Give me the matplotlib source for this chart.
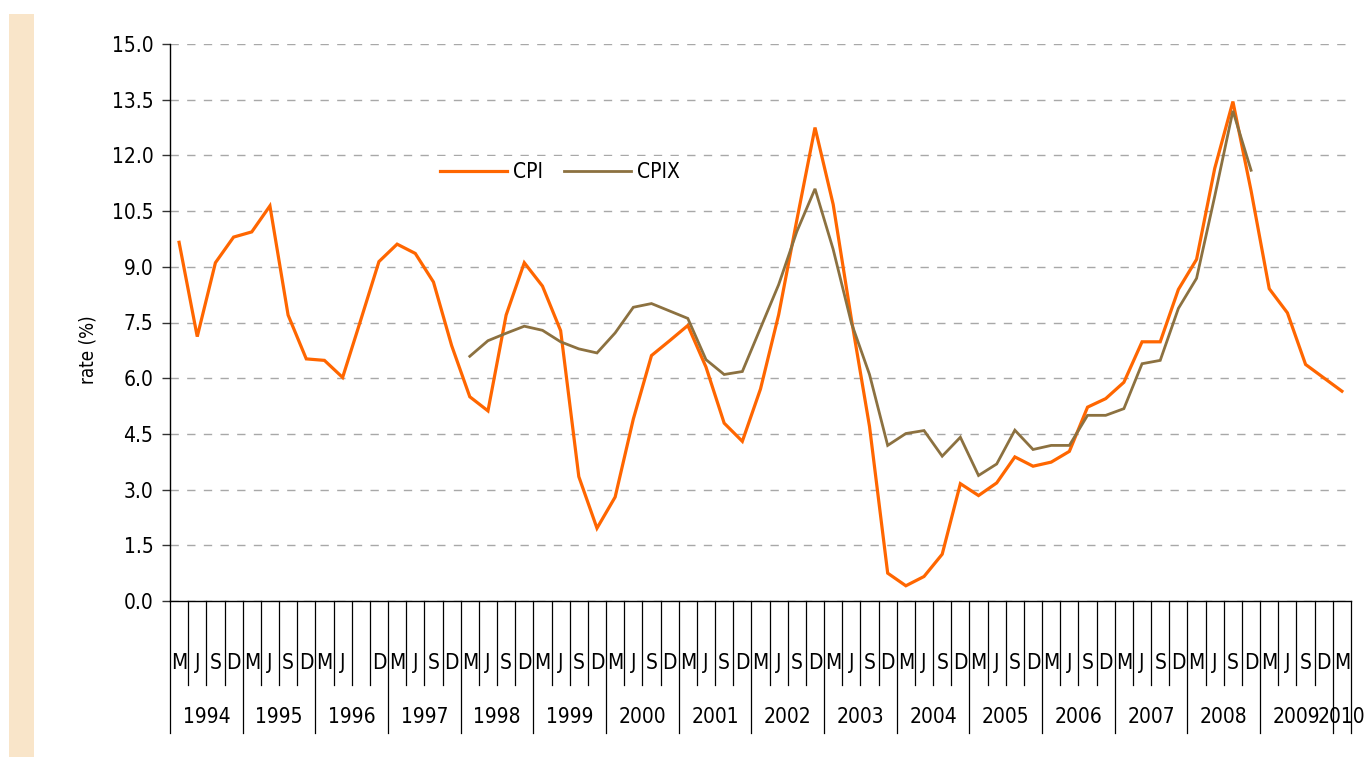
import matplotlib
matplotlib.use("Agg")
import matplotlib.pyplot as plt
import matplotlib.transforms as mtransforms
from matplotlib.patches import Rectangle
from matplotlib import font_manager
import numpy as np

names = sorted({f.name + "|" + str(f.stretch) for f in font_manager.fontManager.ttflist})
print(names)

plt.rcParams['font.family'] = ['DejaVu Sans']
plt.rcParams['font.stretch'] = 'condensed'

years = [str(y) for y in range(1994, 2011)]
quarter_labels = (["M", "J", "S", "D"] * 2 + ["M", "J", "", "D"] + ["M", "J", "S", "D"] * 13 + ["M"])

cpi = [9.66, 7.12, 9.11, 9.80,
       9.94, 10.64, 7.70, 6.52,
       6.48, 6.02, 7.57, 9.14,
       9.61, 9.36, 8.59, 6.88,
       5.50, 5.12, 7.70, 9.11,
       8.48, 7.28, 3.35, 1.96,
       2.80, 4.90, 6.61, 7.01,
       7.42, 6.30, 4.79, 4.30,
       5.71, 7.71, 10.26, 12.75,
       10.68, 7.60, 4.70, 0.75,
       0.41, 0.66, 1.26, 3.16,
       2.84, 3.18, 3.88, 3.63,
       3.74, 4.03, 5.22, 5.45,
       5.89, 6.98, 6.98, 8.39,
       9.20, 11.65, 13.45, 11.05,
       8.41, 7.76, 6.37, 6.01,
       5.65]

nan = float('nan')
cpix = [nan] * 16 + [
       6.59, 7.01, 7.21, 7.40,
       7.29, 6.98, 6.79, 6.68,
       7.22, 7.91, 8.01, 7.81,
       7.61, 6.50, 6.10, 6.18,
       7.35, 8.52, 9.95, 11.10,
       9.47, 7.49, 6.10, 4.19,
       4.51, 4.59, 3.90, 4.41,
       3.38, 3.69, 4.60, 4.08,
       4.19, 4.19, 5.00, 5.00,
       5.18, 6.39, 6.48, 7.88,
       8.69, 10.90, 13.20, 11.60] + [nan] * 5

yticks = [0.0, 1.5, 3.0, 4.5, 6.0, 7.5, 9.0, 10.5, 12.0, 13.5, 15.0]

W, H = 1364, 757
fig = plt.figure(figsize=(W / 100, H / 100), dpi=100)
fig.patch.set_facecolor('white')
fig.patches.append(Rectangle((9 / W, 0), 25 / W, (H - 14) / H, transform=fig.transFigure,
                             facecolor='#F9E5C9', edgecolor='none', zorder=0))

ax_l, ax_r, ax_t, ax_b = 170, 1351, 44, 601
ax = fig.add_axes([ax_l / W, (H - ax_b) / H, (ax_r - ax_l) / W, (ax_b - ax_t) / H])

n = len(cpi)
x = np.arange(n)
ax.plot(x, cpi, color='#FF6600', lw=2.3, label='CPI', zorder=3, solid_joinstyle='miter')
ax.plot(x, cpix, color='#8C7140', lw=2.0, label='CPIX', zorder=3, solid_joinstyle='miter')

ax.set_xlim(-0.5, n - 0.5)
ax.set_ylim(0, 15)
ax.set_yticks(yticks)
ax.set_yticklabels([f"{v:.1f}" for v in yticks])
ax.tick_params(axis='y', direction='out', length=6, width=1, pad=6, labelsize=15, color='#333333')
ax.set_xticks([])
ax.yaxis.grid(True, linestyle=(0, (6, 6)), color='#A8A8A8', lw=1.0)
ax.set_axisbelow(True)
for s in ['top', 'right']:
    ax.spines[s].set_visible(False)
for s in ['left', 'bottom']:
    ax.spines[s].set_linewidth(1.0)
    ax.spines[s].set_color('black')

ax.set_ylabel('rate (%)', fontsize=13.5)
ax.yaxis.set_label_coords((97 - ax_l) / (ax_r - ax_l), (ax_b - 350) / (ax_b - ax_t))

# category axis
trans = mtransforms.blended_transform_factory(ax.transData, ax.transAxes)
ah = ax_b - ax_t
y_short = -(685 - ax_b) / ah
y_long = -(733 - ax_b) / ah
y_q = -(663 - ax_b) / ah
y_y = -(717 - ax_b) / ah
for i in range(n + 1):
    bx = i - 0.5
    yend = y_long if (i % 4 == 0 or i == n) else y_short
    ax.plot([bx, bx], [0, yend], transform=trans, color='black', lw=0.9, clip_on=False)
for i, lab in enumerate(quarter_labels):
    ax.text(i, y_q, lab, transform=trans, ha='center', va='center', fontsize=15)
for k, yr in enumerate(years):
    idx = [j for j in range(4 * k, min(4 * k + 4, n))]
    cx = (idx[0] + idx[-1]) / 2
    ax.text(cx, y_y, yr, transform=trans, ha='center', va='center', fontsize=15)

leg = ax.legend(loc='center', bbox_to_anchor=((560 - ax_l) / (ax_r - ax_l), (ax_b - 172) / ah),
                ncol=2, frameon=True, fancybox=False, fontsize=15, handlelength=3.2,
                handletextpad=0.3, columnspacing=1.0, borderpad=0.3)
leg.get_frame().set_facecolor('white')
leg.get_frame().set_edgecolor('none')
leg.get_frame().set_alpha(1)

fig.savefig('out.png', dpi=100, facecolor='white')
